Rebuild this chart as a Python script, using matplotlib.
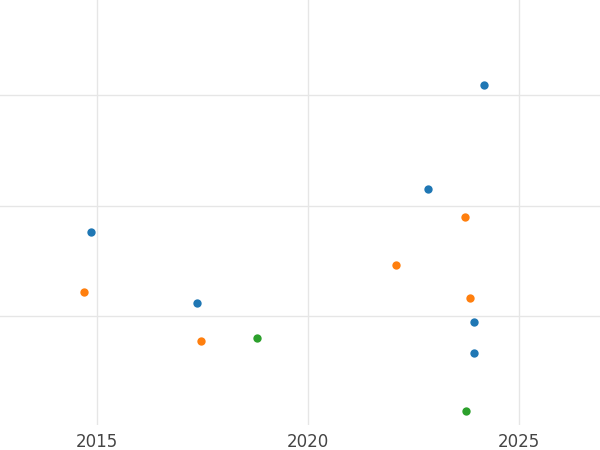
import matplotlib.pyplot as plt

blue_x = [2024.17, 2022.84, 2014.86, 2017.37, 2023.93, 2023.93]
blue_y = [3.09, 2.15, 1.76, 1.12, 0.95, 0.67]
orange_x = [2023.72, 2022.08, 2014.69, 2023.84, 2017.46]
orange_y = [1.90, 1.46, 1.22, 1.16, 0.77]
green_x = [2018.79, 2023.74]
green_y = [0.80, 0.14]

fig = plt.figure(figsize=(6, 4.5), dpi=100)
ax = fig.add_axes([0, 25 / 450, 1, 425 / 450])
ax.scatter(blue_x, blue_y, s=36, color="#1f77b4", zorder=3, linewidths=0)
ax.scatter(orange_x, orange_y, s=36, color="#ff7f0e", zorder=3, linewidths=0)
ax.scatter(green_x, green_y, s=36, color="#2ca02c", zorder=3, linewidths=0)

ax.set_xlim(2012.70, 2026.92)
ax.set_ylim(0.014, 3.86)
ax.set_xticks([2015, 2020, 2025])
ax.set_yticks([1, 2, 3])
ax.set_yticklabels([])
ax.tick_params(length=0, labelsize=12, labelcolor="#444444", pad=6)
ax.grid(True, color="#e6e6e6", linewidth=1)
ax.set_axisbelow(True)
for s in ax.spines.values():
    s.set_visible(False)

fig.savefig("out.png", dpi=100)
